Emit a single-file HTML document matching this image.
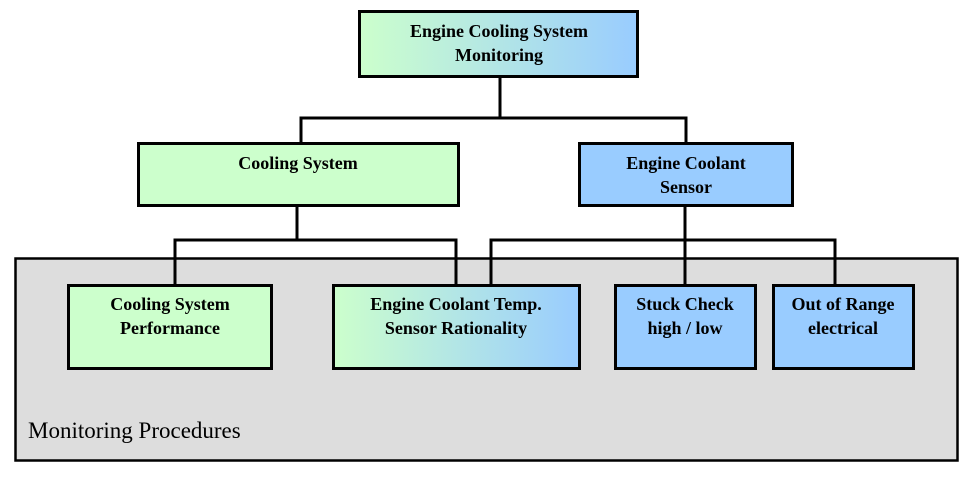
<!DOCTYPE html>
<html><head><meta charset="utf-8"><style>
html,body{margin:0;padding:0;background:#fff;}
svg{display:block;}
text{font-family:"Liberation Serif",serif;font-weight:bold;font-size:18px;fill:#000;text-anchor:middle;}
</style></head><body>
<svg width="978" height="478" viewBox="0 0 978 478" xmlns="http://www.w3.org/2000/svg">
<defs>
<linearGradient id="g" x1="0" y1="0" x2="1" y2="0">
<stop offset="0" stop-color="#ccffcc"/><stop offset="1" stop-color="#99ccff"/>
</linearGradient>
</defs>
<rect x="15.5" y="258.5" width="942" height="202" fill="#dddddd" stroke="#000" stroke-width="2.5"/>
<g stroke="#000" stroke-width="3" fill="none">
<polyline points="500,76 500,118"/>
<polyline points="301,143 301,118 686,118 686,143"/>
<polyline points="297,205 297,240"/>
<polyline points="175,285 175,240 456,240 456,285"/>
<polyline points="685,205 685,285"/>
<polyline points="491,285 491,240 835,240 835,285"/>
</g>
<g stroke="#000" stroke-width="3">
<rect x="359.5" y="11.5" width="278" height="65" fill="url(#g)"/>
<rect x="138.5" y="143.5" width="320" height="62" fill="#ccffcc"/>
<rect x="579.5" y="143.5" width="213" height="62" fill="#99ccff"/>
<rect x="68.5" y="285.5" width="203" height="83" fill="#ccffcc"/>
<rect x="333.5" y="285.5" width="246" height="83" fill="url(#g)"/>
<rect x="615.5" y="285.5" width="140" height="83" fill="#99ccff"/>
<rect x="773.5" y="285.5" width="140" height="83" fill="#99ccff"/>
</g>
<text x="499" y="37">Engine Cooling System</text>
<text x="499" y="61">Monitoring</text>
<text x="298" y="169">Cooling System</text>
<text x="686" y="169">Engine Coolant</text>
<text x="686" y="193">Sensor</text>
<text x="170" y="310">Cooling System</text>
<text x="170" y="334">Performance</text>
<text x="456" y="310">Engine Coolant Temp.</text>
<text x="456" y="334">Sensor Rationality</text>
<text x="685" y="310">Stuck Check</text>
<text x="685" y="334">high / low</text>
<text x="843" y="310">Out of Range</text>
<text x="843" y="334">electrical</text>
<text x="28" y="438" style="font-weight:normal;font-size:23px;text-anchor:start">Monitoring Procedures</text>
</svg>
</body></html>
